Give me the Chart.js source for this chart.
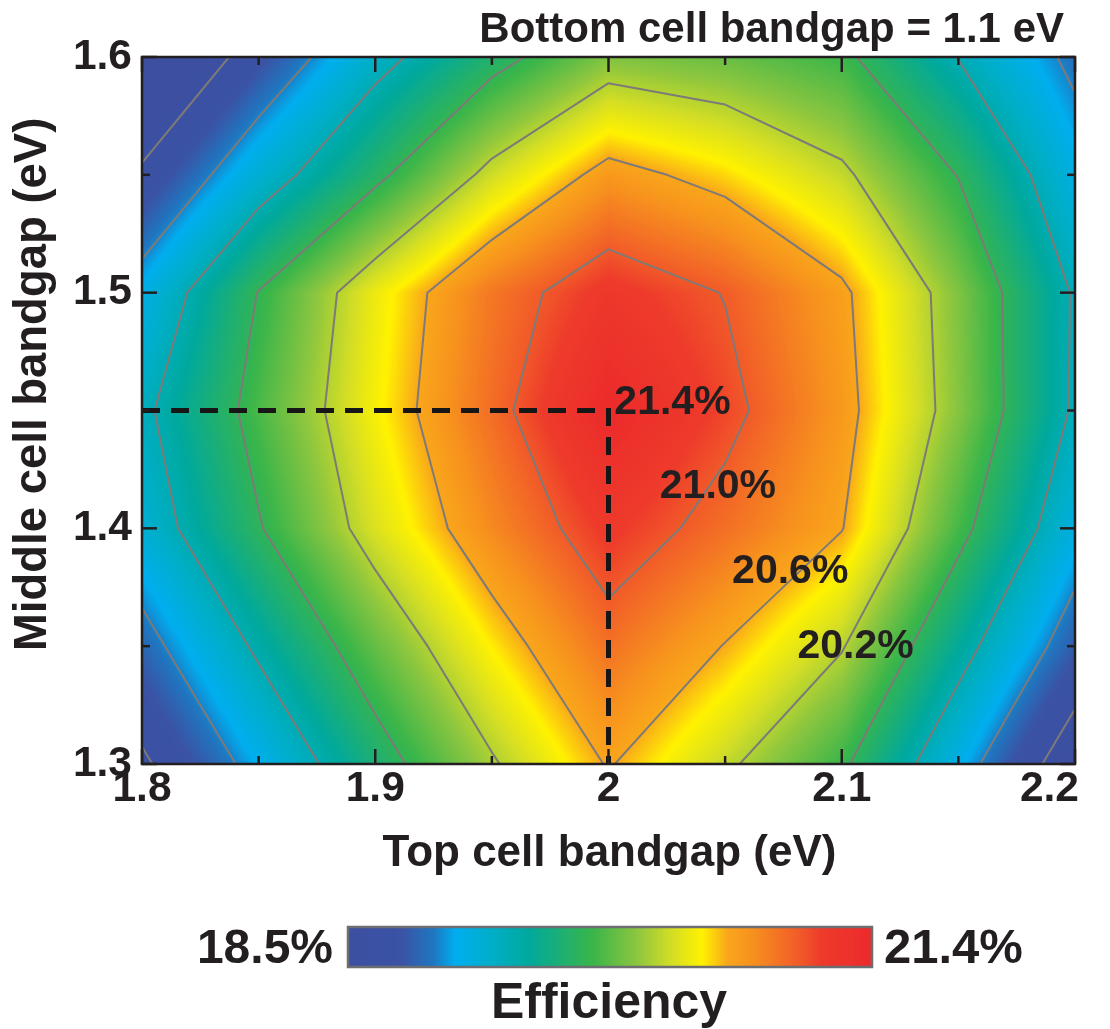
<!DOCTYPE html>
<html lang="en">
<head>
<meta charset="utf-8">
<title>Triple-junction efficiency map</title>
<script src="https://cdn.jsdelivr.net/npm/chart.js@4.4.1/dist/chart.umd.min.js"></script>
<style>
  html, body { margin: 0; padding: 0; background: #ffffff; }
  #frame { width: 1110px; height: 1029px; }
  canvas { display: block; }
</style>
</head>
<body>
<div id="frame"><canvas id="map" width="1110" height="1029"></canvas></div>
<script>
// ---- data ---------------------------------------------------------------
// Top cell bandgap (eV), grid columns
const topCellGap = [1.80, 1.85, 1.90, 1.95, 2.00, 2.05, 2.10, 2.15, 2.20];
// Middle cell bandgap (eV), grid rows
const middleCellGap = [1.30, 1.35, 1.40, 1.45, 1.50, 1.55, 1.60];
// Efficiency (%) per row of middleCellGap, columns follow topCellGap
const efficiencyRows = [
  [18.55, 19.11, 19.67, 20.17, 20.62, 20.25, 19.85, 19.14, 18.39],
  [18.89, 19.45, 19.98, 20.47, 20.89, 20.59, 20.22, 19.52, 18.84],
  [19.23, 19.78, 20.32, 20.77, 21.16, 20.90, 20.61, 19.89, 19.17],
  [19.34, 19.90, 20.43, 20.91, 21.40, 21.08, 20.69, 20.08, 19.36],
  [19.14, 19.81, 20.39, 20.86, 21.18, 20.99, 20.65, 20.06, 19.37],
  [18.65, 19.24, 19.73, 20.28, 20.69, 20.51, 20.25, 19.79, 19.16],
  [18.16, 18.75, 19.30, 19.70, 20.06, 19.99, 19.86, 19.39, 18.93]
];
const contourLevels = [18.6, 19.0, 19.4, 19.8, 20.2, 20.6, 21.0];
const labelledLevels = [21.0, 20.6, 20.2];
const xTickValues = [1.8, 1.9, 2.0, 2.1, 2.2];
const yTickValues = [1.3, 1.4, 1.5, 1.6];
const colorRange = [18.5, 21.4];
const optimumTop = 2.0;
const optimumMiddle = 1.45;
const bottomCellGap = 1.1;

// ---- layout / style -----------------------------------------------------
// where each contour label sits (left end of its baseline, in eV)
const levelLabelAnchors = [[2.022, 1.413], [2.053, 1.377], [2.081, 1.345]];
const optimumLabelAnchor = [2.0025, 1.4485];

const FONT = '"Liberation Sans", Arial, Helvetica, sans-serif';
const INK = '#231f20';
// colour stops as fractions of colorRange
const cmapStops = [
  [0.000, '#3c4fa1'],
  [0.103, '#3a53a5'],
  [0.162, '#1f76c0'],
  [0.205, '#00aeef'],
  [0.276, '#00aec7'],
  [0.345, '#00a99d'],
  [0.466, '#39b54a'],
  [0.552, '#8dc63f'],
  [0.621, '#d7df23'],
  [0.676, '#fff200'],
  [0.724, '#f9a61b'],
  [0.766, '#f7941d'],
  [0.862, '#f15a29'],
  [0.903, '#ee3b2b'],
  [1.000, '#ec2a2b']
];

// ---- helpers ------------------------------------------------------------
function hexRgb(h) {
  const n = parseInt(h.slice(1), 16);
  return [(n >> 16) & 255, (n >> 8) & 255, n & 255];
}
const LUT_SIZE = 512;
const lut = [];
for (let k = 0; k < LUT_SIZE; k++) {
  const f = k / (LUT_SIZE - 1);
  let s = 0;
  while (s < cmapStops.length - 2 && f > cmapStops[s + 1][0]) s++;
  const [f0, c0] = cmapStops[s];
  const [f1, c1] = cmapStops[s + 1];
  const t = Math.max(0, Math.min(1, (f - f0) / (f1 - f0)));
  const a = hexRgb(c0), b = hexRgb(c1);
  lut.push([0, 1, 2].map(q => Math.round(a[q] + (b[q] - a[q]) * t)));
}
function colorFor(v) {
  let f = (v - colorRange[0]) / (colorRange[1] - colorRange[0]);
  f = Math.max(0, Math.min(1, f));
  return lut[Math.round(f * (LUT_SIZE - 1))];
}
function locate(arr, v) {
  const n = arr.length;
  if (v <= arr[0]) return [0, 0];
  if (v >= arr[n - 1]) return [n - 2, 1];
  let i = 0;
  while (v > arr[i + 1]) i++;
  return [i, (v - arr[i]) / (arr[i + 1] - arr[i])];
}
// bilinear efficiency between grid nodes
function effAt(tx, my) {
  const [i, u] = locate(topCellGap, tx);
  const [j, t] = locate(middleCellGap, my);
  const r0 = efficiencyRows[j], r1 = efficiencyRows[j + 1];
  const lo = r0[i] * (1 - u) + r0[i + 1] * u;
  const hi = r1[i] * (1 - u) + r1[i + 1] * u;
  return lo * (1 - t) + hi * t;
}
// marching squares over the grid for one level
function contourSegments(level) {
  const segs = [];
  for (let j = 0; j < middleCellGap.length - 1; j++) {
    for (let i = 0; i < topCellGap.length - 1; i++) {
      const x0 = topCellGap[i], x1 = topCellGap[i + 1];
      const y0 = middleCellGap[j], y1 = middleCellGap[j + 1];
      const a = efficiencyRows[j][i], b = efficiencyRows[j][i + 1];
      const c = efficiencyRows[j + 1][i + 1], d = efficiencyRows[j + 1][i];
      const corners = [[x0, y0, a], [x1, y0, b], [x1, y1, c], [x0, y1, d]];
      const pts = [];
      for (let e = 0; e < 4; e++) {
        const p = corners[e], q = corners[(e + 1) % 4];
        if ((p[2] - level) * (q[2] - level) < 0) {
          const f = (level - p[2]) / (q[2] - p[2]);
          pts.push({x: p[0] + f * (q[0] - p[0]), y: p[1] + f * (q[1] - p[1])});
        }
      }
      if (pts.length === 2) {
        segs.push([pts[0], pts[1]]);
      } else if (pts.length === 4) {
        const mid = (a + b + c + d) / 4;
        if ((mid - level) * (a - level) > 0) {
          segs.push([pts[0], pts[1]]); segs.push([pts[2], pts[3]]);
        } else {
          segs.push([pts[3], pts[0]]); segs.push([pts[1], pts[2]]);
        }
      }
    }
  }
  return segs;
}
const fmtGap = v => String(Number(v.toFixed(2)));
const midpoints = arr => arr.slice(1).map((v, k) => (v + arr[k]) / 2);

// contour polylines, broken by null points between segments
const contourPoints = [];
contourLevels.forEach(level => {
  contourSegments(level).forEach(([p, q]) => {
    contourPoints.push(p, q, {x: null, y: null});
  });
});
// guide to the optimum
const guidePoints = [
  {x: topCellGap[0], y: optimumMiddle},
  {x: optimumTop, y: optimumMiddle},
  {x: optimumTop, y: middleCellGap[0]}
];

// ---- plugins ------------------------------------------------------------
const heatmapPlugin = {
  id: 'heatmap',
  beforeDatasetsDraw(chart) {
    const {ctx, chartArea: a, scales: {x, y}} = chart;
    const w = Math.round(a.right - a.left), h = Math.round(a.bottom - a.top);
    const off = document.createElement('canvas');
    off.width = w; off.height = h;
    const octx = off.getContext('2d');
    const img = octx.createImageData(w, h);
    const xs = new Float64Array(w);
    for (let i = 0; i < w; i++) xs[i] = x.getValueForPixel(a.left + i + 0.5);
    for (let j = 0; j < h; j++) {
      const yv = y.getValueForPixel(a.top + j + 0.5);
      for (let i = 0; i < w; i++) {
        const c = colorFor(effAt(xs[i], yv));
        const k = (j * w + i) * 4;
        img.data[k] = c[0]; img.data[k + 1] = c[1]; img.data[k + 2] = c[2]; img.data[k + 3] = 255;
      }
    }
    octx.putImageData(img, 0, 0);
    ctx.drawImage(off, a.left, a.top);
  }
};

const framePlugin = {
  id: 'frame',
  afterDatasetsDraw(chart) {
    const {ctx, chartArea: a, scales: {x, y}} = chart;
    ctx.save();
    ctx.strokeStyle = INK;
    ctx.lineWidth = 2.5;
    const tick = (px, py, dx, dy) => {
      ctx.beginPath(); ctx.moveTo(px, py); ctx.lineTo(px + dx, py + dy); ctx.stroke();
    };
    const xMarks = xTickValues.map(v => [v, 15]).concat(midpoints(xTickValues).map(v => [v, 8]));
    const yMarks = yTickValues.map(v => [v, 15]).concat(midpoints(yTickValues).map(v => [v, 8]));
    xMarks.forEach(([v, len]) => {
      const px = x.getPixelForValue(v);
      tick(px, a.bottom, 0, -len); tick(px, a.top, 0, len);
    });
    yMarks.forEach(([v, len]) => {
      const py = y.getPixelForValue(v);
      tick(a.left, py, len, 0); tick(a.right, py, -len, 0);
    });
    ctx.strokeRect(a.left, a.top, a.right - a.left, a.bottom - a.top);
    ctx.restore();
  }
};

const textPlugin = {
  id: 'texts',
  afterDraw(chart) {
    const {ctx, chartArea: a, scales: {x, y}} = chart;
    ctx.save();
    ctx.fillStyle = INK;

    // x tick labels, kept inside the right edge
    ctx.font = `bold 42.5px ${FONT}`;
    ctx.textBaseline = 'alphabetic';
    ctx.textAlign = 'center';
    xTickValues.forEach(v => {
      const label = fmtGap(v);
      const w = ctx.measureText(label).width;
      let px = x.getPixelForValue(v);
      if (px + w / 2 > a.right + 4) px = a.right + 4 - w / 2;
      ctx.fillText(label, px, a.bottom + 37);
    });

    // axis titles
    ctx.font = `bold 44px ${FONT}`;
    ctx.fillText('Top cell bandgap (eV)', (a.left + a.right) / 2 + 1, a.bottom + 102);
    ctx.save();
    ctx.translate(33, a.top + (a.bottom - a.top) * 0.463);
    ctx.rotate(-Math.PI / 2);
    ctx.font = `bold 45.5px ${FONT}`;
    ctx.textBaseline = 'middle';
    ctx.fillText('Middle cell bandgap (eV)', 0, 0);
    ctx.restore();

    // fixed bottom cell note
    ctx.font = `bold 42px ${FONT}`;
    ctx.textAlign = 'right';
    ctx.textBaseline = 'alphabetic';
    ctx.fillText(`Bottom cell bandgap = ${bottomCellGap} eV`, a.right - 11, a.top - 15);

    // contour and optimum labels
    ctx.font = `bold 41px ${FONT}`;
    ctx.textAlign = 'left';
    labelledLevels.forEach((lv, k) => {
      const [tx, my] = levelLabelAnchors[k];
      ctx.fillText(lv.toFixed(1) + '%', x.getPixelForValue(tx), y.getPixelForValue(my));
    });
    const peak = effAt(optimumTop, optimumMiddle);
    ctx.fillText(peak.toFixed(1) + '%', x.getPixelForValue(optimumLabelAnchor[0]), y.getPixelForValue(optimumLabelAnchor[1]));

    // colour bar
    const barL = a.left + 206, barR = a.left + 730, barT = 927, barB = 967;
    for (let px = barL; px < barR; px++) {
      const f = (px + 0.5 - barL) / (barR - barL);
      const c = colorFor(colorRange[0] + f * (colorRange[1] - colorRange[0]));
      ctx.fillStyle = `rgb(${c[0]},${c[1]},${c[2]})`;
      ctx.fillRect(px, barT, 1, barB - barT);
    }
    ctx.strokeStyle = '#6d6e71';
    ctx.lineWidth = 2.5;
    ctx.strokeRect(barL, barT, barR - barL, barB - barT);
    ctx.fillStyle = INK;
    ctx.font = `bold 48px ${FONT}`;
    ctx.textAlign = 'right';
    ctx.fillText(colorRange[0].toFixed(1) + '%', barL - 15, 963);
    ctx.textAlign = 'left';
    ctx.font = `bold 49px ${FONT}`;
    ctx.fillText(colorRange[1].toFixed(1) + '%', barR + 12, 963);
    ctx.font = `bold 50px ${FONT}`;
    ctx.textAlign = 'center';
    ctx.fillText('Efficiency', (barL + barR) / 2 - 1, 1018);
    ctx.restore();
  }
};

// ---- chart --------------------------------------------------------------
new Chart(document.getElementById('map'), {
  type: 'scatter',
  data: {
    datasets: [
      {
        label: 'Efficiency contours',
        data: contourPoints,
        showLine: true,
        spanGaps: false,
        borderColor: '#7d7a78',
        borderWidth: 2,
        borderCapStyle: 'round',
        borderJoinStyle: 'round',
        pointRadius: 0,
        pointHoverRadius: 0,
        order: 2
      },
      {
        label: 'Optimum',
        data: guidePoints,
        showLine: true,
        borderColor: '#161616',
        borderWidth: 5,
        borderDash: [18, 11],
        pointRadius: 0,
        pointHoverRadius: 0,
        order: 1
      }
    ]
  },
  options: {
    responsive: false,
    animation: false,
    devicePixelRatio: 1,
    events: [],
    layout: {padding: {left: 0, top: 57, right: 35, bottom: 145}},
    plugins: {legend: {display: false}, tooltip: {enabled: false}, title: {display: false}},
    scales: {
      x: {
        type: 'linear',
        min: topCellGap[0],
        max: topCellGap[topCellGap.length - 1],
        grid: {display: false, drawTicks: false},
        border: {display: false},
        ticks: {display: false},
        afterBuildTicks: s => { s.ticks = xTickValues.map(v => ({value: v})); },
        afterFit: s => { s.height = 120; }
      },
      y: {
        type: 'linear',
        min: middleCellGap[0],
        max: middleCellGap[middleCellGap.length - 1],
        grid: {display: false, drawTicks: false},
        border: {display: false},
        ticks: {
          padding: 10,
          color: INK,
          font: {family: FONT, size: 42.5, weight: 'bold'},
          callback: v => fmtGap(v)
        },
        afterBuildTicks: s => { s.ticks = yTickValues.map(v => ({value: v})); },
        afterFit: s => { s.width = 142; }
      }
    }
  },
  plugins: [heatmapPlugin, framePlugin, textPlugin]
});
</script>
</body>
</html>
